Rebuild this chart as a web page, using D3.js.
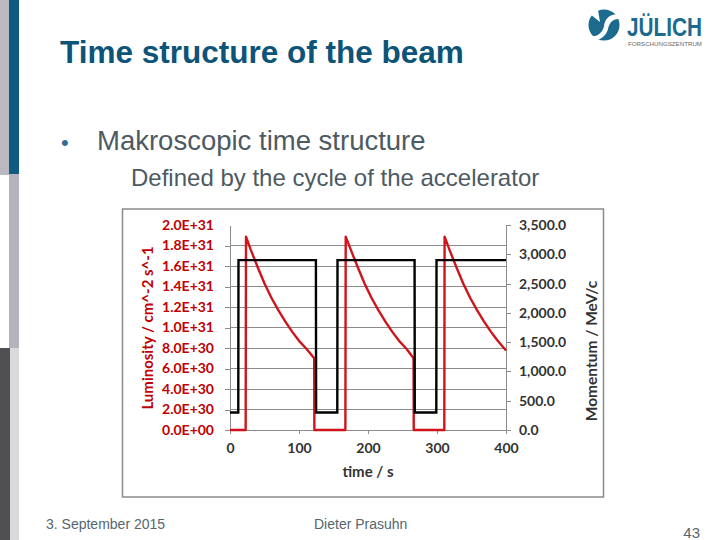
<!DOCTYPE html>
<html>
<head>
<meta charset="utf-8">
<script src="https://cdn.jsdelivr.net/npm/d3@7"></script>
<style>
  html, body { margin: 0; padding: 0; background: #fff; }
  svg { display: block; }
</style>
</head>
<body>
<script>
// ---------- data ----------
const lumTime = [0, 22.7, 23.2, 30, 40, 50, 60, 70, 80, 90, 100, 111, 122.0, 122.3,
                 167.2, 167.7, 175, 185, 195, 205, 215, 225, 235, 245, 256, 266.0, 266.3,
                 310.6, 311.0, 318, 328, 338, 348, 358, 368, 378, 388, 400];
const luminosity = [0, 0, 1.886e31, 1.76e31, 1.59e31, 1.43e31, 1.29e31, 1.17e31, 1.06e31, 9.6e30, 8.7e30, 7.9e30, 7.0e30, 0,
                    0, 1.886e31, 1.76e31, 1.59e31, 1.43e31, 1.29e31, 1.17e31, 1.06e31, 9.6e30, 8.7e30, 7.9e30, 7.0e30, 0,
                    0, 1.886e31, 1.76e31, 1.59e31, 1.43e31, 1.29e31, 1.17e31, 1.06e31, 9.6e30, 8.7e30, 7.75e30];
const momTime = [0, 12.0, 12.3, 124.5, 124.8, 155.5, 155.8, 267.5, 267.8, 299.0, 299.3, 400];
const momentum = [300, 300, 2900, 2900, 300, 300, 2900, 2900, 300, 300, 2900, 2900];

const timeTicks = [0, 100, 200, 300, 400];
const lumTicks = [0, 2e30, 4e30, 6e30, 8e30, 1e31, 1.2e31, 1.4e31, 1.6e31, 1.8e31, 2e31];
const lumTickLabels = ["0.0E+00", "2.0E+30", "4.0E+30", "6.0E+30", "8.0E+30", "1.0E+31",
                       "1.2E+31", "1.4E+31", "1.6E+31", "1.8E+31", "2.0E+31"];
const momTicks = [0, 500, 1000, 1500, 2000, 2500, 3000, 3500];
const momTickLabels = ["0.0", "500.0", "1,000.0", "1,500.0", "2,000.0", "2,500.0", "3,000.0", "3,500.0"];

// ---------- page ----------
const W = 720, H = 540;
const svg = d3.select("body").append("svg").attr("width", W).attr("height", H);
svg.append("rect").attr("width", W).attr("height", H).attr("fill", "#fff");

// left decorative bars
const bars = [
  [0, 0, 9, 175, "#b9b9bf"], [9, 0, 10, 174, "#0f5a80"],
  [9, 174, 10, 174, "#b3b3bb"],
  [0, 348, 10, 192, "#505052"], [10, 348, 9, 192, "#d9d9d9"]
];
svg.selectAll("rect.bar").data(bars).enter().append("rect")
  .attr("x", d => d[0]).attr("y", d => d[1]).attr("width", d => d[2]).attr("height", d => d[3])
  .attr("fill", d => d[4]);

// title and texts
const sans = "'Liberation Sans', Arial, sans-serif";
svg.append("text").attr("x", 60).attr("y", 63).attr("font-family", sans).attr("font-weight", "bold")
  .attr("font-size", 31.5).attr("fill", "#0d5479").text("Time structure of the beam");
svg.append("text").attr("x", 61).attr("y", 150).attr("font-family", sans)
  .attr("font-size", 22).attr("fill", "#2f6f96").text("•");
svg.append("text").attr("x", 97).attr("y", 150).attr("font-family", sans)
  .attr("font-size", 27.5).attr("fill", "#4d5a62").text("Makroscopic time structure");
svg.append("text").attr("x", 131).attr("y", 186).attr("font-family", sans)
  .attr("font-size", 24).attr("fill", "#4d5a62").text("Defined by the cycle of the accelerator");

svg.append("text").attr("x", 46).attr("y", 529).attr("font-family", sans)
  .attr("font-size", 14).attr("fill", "#55666f").text("3. September 2015");
svg.append("text").attr("x", 314).attr("y", 529).attr("font-family", sans)
  .attr("font-size", 14).attr("fill", "#55666f").text("Dieter Prasuhn");
svg.append("text").attr("x", 700).attr("y", 538).attr("text-anchor", "end").attr("font-family", sans)
  .attr("font-size", 15).attr("fill", "#55666f").text("43");

// logo
const logo = svg.append("g");
logo.append("circle").attr("cx", 604).attr("cy", 25).attr("r", 15.5).attr("fill", "#1c6a8e");
logo.append("path").attr("d", "M588,34 C596,40 603,32 604,26 C605,19 610,13 619,15 L620,19 C612,18 609,24 608,29 C606,37 597,43 590,39 Z")
  .attr("fill", "#fff");
logo.append("path").attr("d", "M590,14 L598,10 L600,22 Z").attr("fill", "#fff");
logo.append("text").attr("x", 627).attr("y", 36).attr("font-family", sans).attr("font-weight", "bold")
  .attr("font-size", 25).attr("fill", "#1c6a8e").attr("textLength", 75).attr("lengthAdjust", "spacingAndGlyphs")
  .text("JÜLICH");
logo.append("text").attr("x", 628).attr("y", 46).attr("font-family", sans)
  .attr("font-size", 6).attr("fill", "#666").attr("textLength", 74).attr("lengthAdjust", "spacingAndGlyphs")
  .text("FORSCHUNGSZENTRUM");

// ---------- chart ----------
svg.append("rect").attr("x", 122.5).attr("y", 209).attr("width", 481).attr("height", 288)
  .attr("fill", "#fff").attr("stroke", "#8a8a8a").attr("stroke-width", 1.5);

const x = d3.scaleLinear().domain([0, 400]).range([230, 506]);
const yL = d3.scaleLinear().domain([0, 2e31]).range([430, 225]);
const yR = d3.scaleLinear().domain([0, 3500]).range([430, 225]);

const cfont = "Lato, 'Open Sans', sans-serif";
const gridCol = "#8c8c8c";

// gridlines
svg.append("g").selectAll("line").data(lumTicks.slice(1, -1)).enter().append("line")
  .attr("x1", x(0)).attr("x2", x(400)).attr("y1", d => yL(d)).attr("y2", d => yL(d))
  .attr("stroke", gridCol).attr("stroke-width", 1).attr("shape-rendering", "crispEdges");

function styleAxis(g, col) {
  g.selectAll("path.domain").attr("stroke", gridCol).attr("stroke-width", 1);
  g.selectAll(".tick line").attr("stroke", gridCol).attr("stroke-width", 1);
  g.selectAll("text").attr("font-family", cfont).attr("font-weight", "bold").attr("font-size", 14).attr("fill", col);
  g.attr("shape-rendering", "crispEdges");
}

const axL = svg.append("g").attr("transform", `translate(${x(0)},0)`)
  .call(d3.axisLeft(yL).tickValues(lumTicks).tickFormat((d, i) => lumTickLabels[i]).tickSize(5).tickSizeOuter(0).tickPadding(11));
styleAxis(axL, "#c00000");
axL.selectAll(".tick").filter(d => d === 2e31).select("line").remove();

const axR = svg.append("g").attr("transform", `translate(${x(400)},0)`)
  .call(d3.axisRight(yR).tickValues(momTicks).tickFormat((d, i) => momTickLabels[i]).tickSize(5).tickSizeOuter(0).tickPadding(8));
styleAxis(axR, "#333");

const axB = svg.append("g").attr("transform", `translate(0,${yL(0)})`)
  .call(d3.axisBottom(x).tickValues(timeTicks).tickFormat(d3.format("d")).tickSize(4).tickSizeOuter(0).tickPadding(9));
styleAxis(axB, "#333");

// axis titles
svg.append("text").attr("transform", `translate(153,328) rotate(-90)`).attr("text-anchor", "middle")
  .attr("font-family", cfont).attr("font-weight", "bold").attr("font-size", 15).attr("fill", "#c00000")
  .text("Luminosity / cm^-2 s^-1");
svg.append("text").attr("transform", `translate(597,351) rotate(-90)`).attr("text-anchor", "middle")
  .attr("font-family", cfont).attr("font-weight", "bold").attr("font-size", 15.5).attr("fill", "#333")
  .text("Momentum / MeV/c");
svg.append("text").attr("x", 368).attr("y", 477).attr("text-anchor", "middle")
  .attr("font-family", cfont).attr("font-weight", "bold").attr("font-size", 15).attr("fill", "#333")
  .text("time / s");

// series
const lumLine = d3.line().x((d, i) => x(lumTime[i])).y(d => yL(d));
svg.append("path").datum(luminosity).attr("d", lumLine).attr("fill", "none")
  .attr("stroke", "#d0141c").attr("stroke-width", 2.4).attr("stroke-linejoin", "round");

const momLine = d3.line().x((d, i) => x(momTime[i])).y(d => yR(d));
svg.append("path").datum(momentum).attr("d", momLine).attr("fill", "none")
  .attr("stroke", "#000").attr("stroke-width", 2.4).attr("stroke-linejoin", "miter");
</script>
</body>
</html>
